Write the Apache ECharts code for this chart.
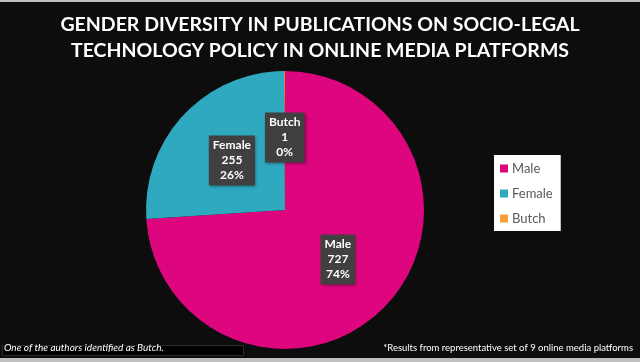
<!DOCTYPE html>
<html>
<head>
<meta charset="utf-8">
<script src="https://cdn.jsdelivr.net/npm/echarts@6/dist/echarts.min.js"></script>
<style>
html,body{margin:0;padding:0;background:#0d0d0d;}
#c{width:640px;height:362px;}
</style>
</head>
<body>
<div id="c"></div>
<script>
var categories = ['Male', 'Female', 'Butch'];
var counts = [727, 255, 1];
var colors = ['#de067e', '#2ea9bf', '#f3a13a'];
var titleLines = ['GENDER DIVERSITY IN PUBLICATIONS ON SOCIO-LEGAL', 'TECHNOLOGY POLICY IN ONLINE MEDIA PLATFORMS'];
var noteLeft = 'One of the authors identified as Butch.';
var noteRight = '*Results from representative set of 9 online media platforms';

var chart = echarts.init(document.getElementById('c'));
var pieData = categories.map(function (n, i) {
  return { name: n, value: counts[i], itemStyle: { color: colors[i] } };
});
chart.setOption({
  backgroundColor: '#0d0d0d',
  animation: false,
  title: {
    text: titleLines.join('\n'),
    left: 'center',
    top: 7,
    textStyle: { color: '#ffffff', fontFamily: 'Lato', fontWeight: 'bold', fontSize: 19.5, lineHeight: 26 }
  },
  legend: {
    orient: 'vertical',
    left: 494,
    top: 155,
    backgroundColor: '#ffffff',
    padding: [7, 8, 6, 6],
    itemWidth: 8,
    itemHeight: 8,
    itemGap: 12,
    icon: 'rect',
    data: categories,
    textStyle: { color: '#595959', fontFamily: 'Lato', fontSize: 13, padding: [0, 0, 0, -1] }
  },
  series: [{
    type: 'pie',
    center: [285, 210],
    radius: 139,
    startAngle: 90,
    clockwise: true,
    percentPrecision: 0,
    minAngle: 0,
    avoidLabelOverlap: false,
    data: pieData,
    label: {
      show: true,
      position: 'inside',
      formatter: '{b}\n{c}\n{d}%',
      color: '#ffffff',
      fontFamily: 'Lato',
      fontWeight: 'bold',
      fontSize: 12,
      lineHeight: 15,
      backgroundColor: '#404040',
      padding: [3, 4, 2, 4],
      shadowColor: 'rgba(0,0,0,0.4)',
      shadowBlur: 3,
      shadowOffsetX: 1,
      shadowOffsetY: 1
    },
    labelLine: { show: false },
    itemStyle: { borderWidth: 0 },
    emphasis: { disabled: true }
  }],
  graphic: [
    { type: 'rect', left: 0, top: 0, shape: { width: 640, height: 2 }, style: { fill: '#bfbfbf' } },
    { type: 'rect', left: 0, top: 358, shape: { width: 640, height: 4 }, style: { fill: '#bfbfbf' } },
    { type: 'rect', left: 2, top: 345, shape: { width: 241, height: 10 }, style: { fill: '#000000', stroke: '#2a2a2a', lineWidth: 1 } },
    { type: 'text', left: 4, top: 343, style: { text: noteLeft, fill: '#ffffff', font: 'italic 10px Lato' } },
    { type: 'text', right: 7, top: 343, style: { text: noteRight, fill: '#ffffff', font: '9.5px Lato' } }
  ]
});
</script>
</body>
</html>
